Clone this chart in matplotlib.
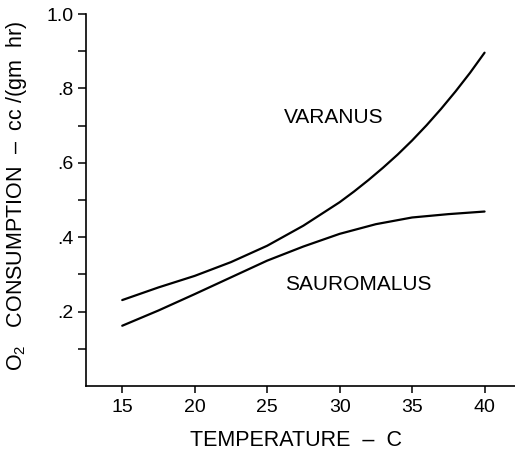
import matplotlib
matplotlib.use('Agg')
import matplotlib.pyplot as plt
from matplotlib.ticker import FixedLocator

plt.rcParams['font.family'] = ['Liberation Sans', 'DejaVu Sans']
plt.rcParams['mathtext.fontset'] = 'custom'
plt.rcParams['mathtext.rm'] = 'Liberation Sans'

# Oxygen consumption vs body temperature
varanus_t = [15, 17.5, 20, 22.5, 25, 27.5, 30, 31, 32, 33, 34, 35,
             36, 37, 38, 39, 40]
varanus = [0.231, 0.265, 0.296, 0.333, 0.377, 0.431, 0.494, 0.523,
           0.554, 0.587, 0.622, 0.660, 0.701, 0.745, 0.792, 0.842, 0.896]

sauromalus_t = [15, 17.5, 20, 22.5, 25, 27.5, 30, 32.5, 35, 37.5, 40]
sauromalus = [0.162, 0.203, 0.247, 0.292, 0.337, 0.375, 0.409, 0.435,
              0.453, 0.462, 0.469]

x_ticks = [15, 20, 25, 30, 35, 40]
y_ticks = [0.2, 0.4, 0.6, 0.8, 1.0]
y_ticklabels = ['.2', '.4', '.6', '.8', '1.0']


def create_figure(save_path='out.png', dpi=100):
    fig = plt.figure(figsize=(5.15, 4.63), dpi=dpi)
    ax = fig.add_axes([86 / 515, 77 / 463, 429 / 515, 372 / 463])

    ax.plot(varanus_t, varanus, color='black', linewidth=1.6,
            solid_capstyle='round', solid_joinstyle='round')
    ax.plot(sauromalus_t, sauromalus, color='black', linewidth=1.6,
            solid_capstyle='round', solid_joinstyle='round')

    ax.text(29.6, 0.723, 'VARANUS', fontsize=15, ha='center', va='center')
    ax.text(31.3, 0.274, 'SAUROMALUS', fontsize=15, ha='center',
            va='center')

    ax.set_xlim(12.5, 42.1)
    ax.set_ylim(0.0, 1.0)
    for side in ('top', 'right'):
        ax.spines[side].set_visible(False)
    for side in ('left', 'bottom'):
        ax.spines[side].set_linewidth(1.2)

    ax.xaxis.set_major_locator(FixedLocator(x_ticks))
    ax.set_xticklabels([str(t) for t in x_ticks])
    ax.yaxis.set_major_locator(FixedLocator(y_ticks))
    ax.yaxis.set_minor_locator(FixedLocator([0.1, 0.3, 0.5, 0.7, 0.9]))
    ax.set_yticklabels(y_ticklabels)

    ax.tick_params(axis='both', which='both', direction='out', width=1.1,
                   labelsize=14)
    ax.tick_params(axis='x', length=5, pad=4)
    ax.tick_params(axis='y', which='major', length=6, pad=3)
    ax.tick_params(axis='y', which='minor', length=6)

    fig.text(17 / 515, 1 - 196 / 463,
             r'O$_\mathregular{2}$   CONSUMPTION  –  cc /(gm  hr)',
             rotation=90, ha='center', va='center', fontsize=15.5)
    fig.text(296 / 515, 1 - 441 / 463, 'TEMPERATURE  –  C',
             ha='center', va='center', fontsize=15.5)

    fig.savefig(save_path, dpi=dpi, facecolor='white')
    plt.close(fig)


if __name__ == '__main__':
    create_figure()
